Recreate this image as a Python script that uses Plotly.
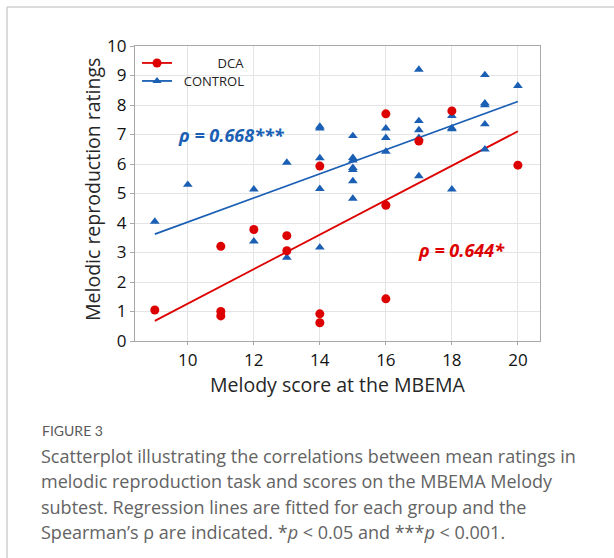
import numpy as np
import plotly.graph_objects as go

# ---- data ----
dca_x = [9, 11, 11, 11, 12, 13, 13, 14, 14, 14, 16, 16, 16, 17, 18, 20]
dca_y = [1.05, 3.21, 1.0, 0.85, 3.78, 3.57, 3.06, 5.93, 0.92, 0.62, 7.7, 4.6, 1.43, 6.78, 7.8, 5.96]

ctrl_x = [9, 10, 12, 12, 13, 13,
          14, 14, 14, 14, 14,
          15, 15, 15, 15, 15, 15, 15,
          16, 16, 16,
          17, 17, 17, 17, 17,
          18, 18, 18, 18,
          19, 19, 19, 19, 19,
          20]
ctrl_y = [4.05, 5.3, 5.14, 3.38, 6.05, 2.83,
          7.27, 7.21, 6.2, 5.16, 3.17,
          6.95, 6.21, 6.12, 5.87, 5.8, 5.42, 4.83,
          7.21, 6.89, 6.42,
          9.2, 7.46, 7.15, 6.89, 5.59,
          7.63, 7.22, 7.18, 5.14,
          9.02, 8.06, 8.0, 7.35, 6.5,
          8.65]

x_ticks = [10, 12, 14, 16, 18, 20]
y_ticks = list(range(0, 11))
rho_dca = "ρ = 0.644*"
rho_ctrl = "ρ = 0.668***"
x_title = "Melody score at the MBEMA"
y_title = "Melodic reproduction ratings"

caption_title = "FIGURE 3"
caption_lines = [
    "Scatterplot illustrating the correlations between mean ratings in",
    "melodic reproduction task and scores on the MBEMA Melody",
    "subtest. Regression lines are fitted for each group and the",
    "Spearman’s ρ are indicated. *<i>p</i> &lt; 0.05 and ***<i>p</i> &lt; 0.001.",
]

RED = "#dd0000"
BLUE = "#1a5fb4"
GRID = "#e4e4e4"
AX = "#a8a8a8"
FONT = "Open Sans"


def fit(xs, ys):
    b, a = np.polyfit(xs, ys, 1)
    xx = np.array([min(xs), max(xs)], dtype=float)
    return xx, a + b * xx


fig = go.Figure()

dx, dy = fit(dca_x, dca_y)
cx, cy = fit(ctrl_x, ctrl_y)

fig.add_trace(go.Scatter(x=dx, y=dy, mode="lines", line=dict(color=RED, width=1.8),
                         showlegend=False, hoverinfo="skip"))
fig.add_trace(go.Scatter(x=cx, y=cy, mode="lines", line=dict(color=BLUE, width=1.8),
                         showlegend=False, hoverinfo="skip"))

fig.add_trace(go.Scatter(x=ctrl_x, y=ctrl_y, mode="markers",
                         marker=dict(symbol="triangle-up", size=8.5, color=BLUE),
                         showlegend=False))
fig.add_trace(go.Scatter(x=dca_x, y=dca_y, mode="markers",
                         marker=dict(symbol="circle", size=9, color=RED),
                         showlegend=False))

# legend entries (two separate legends for exact placement)
fig.add_trace(go.Scatter(x=[None], y=[None], mode="lines+markers",
                         line=dict(color=RED, width=1.8),
                         marker=dict(symbol="circle", size=9, color=RED),
                         name="\u00a0" * 12 + "DCA", legend="legend"))
fig.add_trace(go.Scatter(x=[None], y=[None], mode="lines+markers",
                         line=dict(color=BLUE, width=1.8),
                         marker=dict(symbol="triangle-up", size=8, color=BLUE),
                         name="\u00a0\u00a0CONTROL", legend="legend2"))

# plot area pixel geometry
L, R, T, B = 135, 540, 46, 341
W, H = R - L, B - T


def px(xp):
    return (xp - L) / W


def py(yp):
    return (B - yp) / H


# rho annotations
fig.add_annotation(x=11.32, y=6.97, xref="x", yref="y", text="<b><i>" + rho_ctrl + "</i></b>",
                   showarrow=False, font=dict(family=FONT, size=18, color=BLUE))
fig.add_annotation(x=18.3, y=3.07, xref="x", yref="y", text="<b><i>" + rho_dca + "</i></b>",
                   showarrow=False, font=dict(family=FONT, size=18, color=RED))

# axis titles
fig.add_annotation(x=px(338), y=py(384), xref="paper", yref="paper", text=x_title,
                   showarrow=False, xanchor="center", yanchor="middle",
                   font=dict(family=FONT, size=19.5, color="#262626"))
fig.add_annotation(x=px(92), y=py(190), xref="paper", yref="paper", text=y_title,
                   showarrow=False, xanchor="center", yanchor="middle", textangle=-90,
                   font=dict(family=FONT, size=19.5, color="#262626"))

# caption
fig.add_annotation(x=px(40), y=py(430), xref="paper", yref="paper", text=caption_title,
                   showarrow=False, xanchor="left", yanchor="middle", align="left",
                   font=dict(family="Lato", size=14, color="#5a5a5a"))
for i, line in enumerate(caption_lines):
    fig.add_annotation(x=px(39), y=py(455.5 + i * 25.6), xref="paper", yref="paper", text=line,
                       showarrow=False, xanchor="left", yanchor="middle", align="left",
                       font=dict(family="Open Sans", size=18, color="#636363"))

# card border (top & left)
fig.add_shape(type="line", xref="paper", yref="paper", x0=px(7), x1=px(620), y0=py(7), y1=py(7),
              line=dict(color="#cfcfcf", width=1.5))
fig.add_shape(type="line", xref="paper", yref="paper", x0=px(7), x1=px(7), y0=py(7), y1=py(565),
              line=dict(color="#cfcfcf", width=1.5))

fig.update_xaxes(range=[8.4, 20.67], tickvals=x_ticks, showgrid=True, gridcolor=GRID, gridwidth=1,
                 showline=True, linecolor=AX, linewidth=1.2, mirror=True,
                 ticks="outside", ticklen=3, tickcolor=AX, zeroline=False,
                 ticklabelstandoff=0,
                 tickfont=dict(family=FONT, size=17, color="#111111"))
fig.update_yaxes(range=[0, 10], tickvals=y_ticks, showgrid=True, gridcolor=GRID, gridwidth=1,
                 showline=True, linecolor=AX, linewidth=1.2, mirror=True,
                 ticks="outside", ticklen=4, tickcolor=AX, zeroline=False,
                 tickfont=dict(family=FONT, size=17, color="#111111"))

leg_common = dict(xanchor="left", yanchor="middle", bgcolor="rgba(0,0,0,0)",
                  font=dict(family=FONT, size=13, color="#222"), itemwidth=30)
fig.update_layout(
    width=614, height=558,
    margin=dict(l=L, r=614 - R, t=T, b=558 - B, autoexpand=False),
    paper_bgcolor="white", plot_bgcolor="white",
    showlegend=True,
    legend=dict(x=0.005, y=py(63), **leg_common),
    legend2=dict(x=0.005, y=py(81), **leg_common),
)

fig.write_html("out.html")
